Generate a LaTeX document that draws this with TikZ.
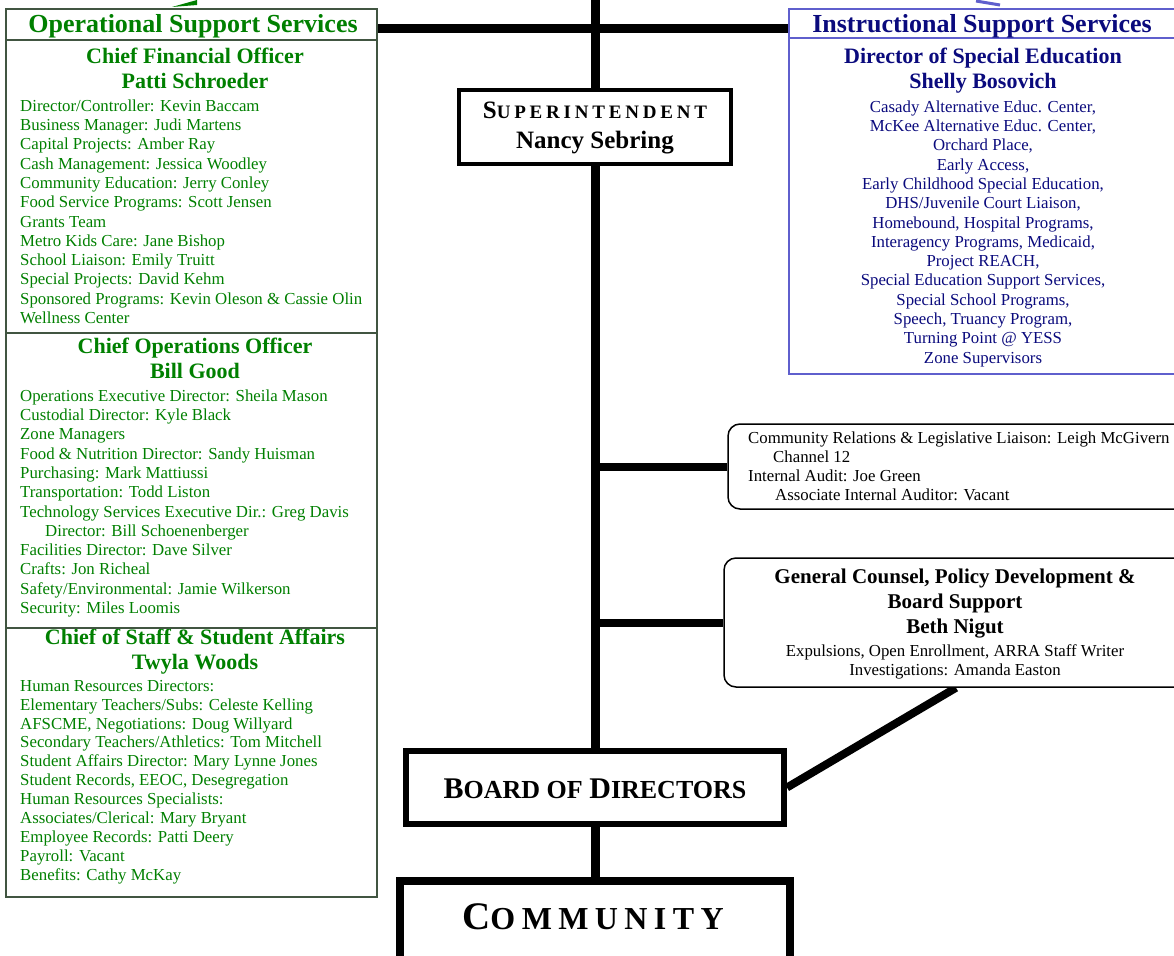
\documentclass[tikz,border=0pt]{standalone}
\usepackage{fontspec}
\setmainfont{Liberation Serif}
\usetikzlibrary{backgrounds}
\definecolor{opgreen}{RGB}{0,128,0}
\definecolor{navytext}{RGB}{10,10,125}
\definecolor{instline}{RGB}{95,95,205}
\definecolor{opline}{RGB}{65,85,65}
\begin{document}
\begin{tikzpicture}[x=1pt,y=-1pt,
  trunk/.style={line width=9pt},
  branch/.style={line width=8pt},
  emptybox/.style={anchor=center, inner sep=0pt, fill=white},
  opbody/.style={font=\fontsize{16.8}{19.3}\selectfont, text=opgreen, align=left, anchor=north west, inner sep=0pt},
  opbodyb/.style={opbody, font=\fontsize{16.8}{18.9}\selectfont},
  ophead/.style={font=\bfseries\fontsize{22}{25}\selectfont, text=opgreen, align=center, anchor=north, inner sep=0pt},
  optitle/.style={font=\bfseries\fontsize{26}{30}\selectfont, anchor=base, inner sep=0pt},
  instbody/.style={font=\fontsize{16.8}{19.3}\selectfont, text=navytext, align=center, anchor=north, inner sep=0pt},
  insthead/.style={font=\bfseries\fontsize{22}{25}\selectfont, text=navytext, align=center, anchor=north, inner sep=0pt},
  blkbody/.style={font=\fontsize{16.8}{19}\selectfont, align=left, anchor=north west, inner sep=0pt},
  blkcenter/.style={font=\fontsize{16.8}{19}\selectfont, align=center, anchor=north, inner sep=0pt},
  blkhead/.style={font=\bfseries\fontsize{21}{25}\selectfont, align=center, anchor=north, inner sep=0pt}
]
\useasboundingbox (0,0) rectangle (1174,955);

% ---------- boxes ----------
\node[emptybox, draw=opline, line width=1.5pt, minimum width=371pt, minimum height=888pt] (opbox) at (191.5,453) {};
\node[emptybox, draw=instline, line width=1.5pt, minimum width=391pt, minimum height=365pt] (instbox) at (984.5,191.5) {};
\node[emptybox, draw, line width=4pt, minimum width=272pt, minimum height=74pt] (supt) at (595,127) {};
\node[emptybox, draw, line width=6pt, minimum width=378pt, minimum height=73pt] (board) at (595,787.5) {};
\node[emptybox, draw, line width=8pt, minimum width=390pt, minimum height=94pt] (comm) at (595,928) {};
\node[emptybox, draw, line width=1.5pt, rounded corners=12pt, minimum width=462pt, minimum height=85pt] (crbox) at (959,466.5) {};
\node[emptybox, draw, line width=1.5pt, rounded corners=12pt, minimum width=464pt, minimum height=129pt] (gcbox) at (956,622.5) {};

% ---------- connectors (behind boxes) ----------
\coordinate (topend) at (595,0);
\coordinate (hbar) at (0,29);
\begin{scope}[on background layer]
  \fill[white] (0,0) rectangle (1174,955);
  \draw[trunk] (topend) -- (supt.north);
  \draw[trunk] (supt.south) -- (board.north);
  \draw[trunk] (board.south) -- (comm.north);
  \draw[trunk] (opbox.east |- hbar) -- (instbox.west |- hbar);
  \draw[branch] (crbox.west -| topend) -- (crbox.west);
  \draw[branch] (gcbox.west -| topend) -- (gcbox.west);
  \draw[branch] (board.east) -- (gcbox.south);
\end{scope}

% arrow pieces at the top edge
\fill[opgreen] (172,7) -- (197,0) -- (197,5) -- cycle;
\draw[instline, line width=3pt] (976,1) -- (1000,5);

% ---------- Operational Support Services ----------
\draw[opline, line width=1.5pt] (6,40) -- (377,40);
\draw[opline, line width=1.5pt] (6,333) -- (377,333);
\node[optitle, text=opgreen] (optitle) at (193,33) {Operational Support Services};
\node[ophead] (cfo) at (195,45.5) {\strut Chief Financial Officer\\Patti Schroeder};
\node[opbody] (cfolist) at (20,97.5) {\strut Director/Controller: Kevin Baccam\\
Business Manager: Judi Martens\\
Capital Projects: Amber Ray\\
Cash Management: Jessica Woodley\\
Community Education: Jerry Conley\\
Food Service Programs: Scott Jensen\\
Grants Team\\
Metro Kids Care: Jane Bishop\\
School Liaison: Emily Truitt\\
Special Projects: David Kehm\\
Sponsored Programs: Kevin Oleson \& Cassie Olin\\
Wellness Center};
\node[ophead] (coo) at (195,335.5) {\strut Chief Operations Officer\\Bill Good};
\node[opbody] (coolist) at (20,387.5) {\strut Operations Executive Director: Sheila Mason\\
Custodial Director: Kyle Black\\
Zone Managers\\
Food \& Nutrition Director: Sandy Huisman\\
Purchasing: Mark Mattiussi\\
Transportation: Todd Liston\\
Technology Services Executive Dir.: Greg Davis\\
\hspace*{25pt}Director: Bill Schoenenberger\\
Facilities Director: Dave Silver\\
Crafts: Jon Richeal\\
Safety/Environmental: Jamie Wilkerson\\
Security: Miles Loomis};
\node[ophead] (cos) at (195,626.5) {\strut Chief of Staff \& Student Affairs\\Twyla Woods};
\draw[opline, line width=1.5pt] (6,628) -- (377,628);
\node[opbodyb] (coslist) at (20,677.8) {\strut Human Resources Directors:\\
Elementary Teachers/Subs: Celeste Kelling\\
AFSCME, Negotiations: Doug Willyard\\
Secondary Teachers/Athletics: Tom Mitchell\\
Student Affairs Director: Mary Lynne Jones\\
Student Records, EEOC, Desegregation\\
Human Resources Specialists:\\
Associates/Clerical: Mary Bryant\\
Employee Records: Patti Deery\\
Payroll: Vacant\\
Benefits: Cathy McKay};

% ---------- Instructional Support Services ----------
\draw[instline, line width=1.5pt] (789,38) -- (1174,38);
\node[optitle, text=navytext] (insttitle) at (982,33) {Instructional Support Services};
\node[insthead] (dse) at (983,45.5) {\strut Director of Special Education\\Shelly Bosovich};
\node[instbody] (dselist) at (983,98.5) {\strut Casady Alternative Educ. Center,\\
McKee Alternative Educ. Center,\\
Orchard Place,\\
Early Access,\\
Early Childhood Special Education,\\
DHS/Juvenile Court Liaison,\\
Homebound, Hospital Programs,\\
Interagency Programs, Medicaid,\\
Project REACH,\\
Special Education Support Services,\\
Special School Programs,\\
Speech, Truancy Program,\\
Turning Point @ YESS\\
Zone Supervisors};

% ---------- Superintendent / Board / Community ----------
\node[font=\bfseries\fontsize{25}{30}\selectfont, align=center, anchor=north, inner sep=0pt] (supttext) at (595,97)
  {\strut{\fontsize{25}{30}\selectfont S}{\fontsize{19}{30}\selectfont\addfontfeatures{LetterSpace=20}UPERINTENDENT}\\Nancy Sebring};
\node[font=\bfseries, anchor=base, inner sep=0pt] (boardtext) at (595,798)
  {{\fontsize{30}{34}\selectfont B}{\fontsize{26}{34}\selectfont OARD OF }{\fontsize{30}{34}\selectfont D}{\fontsize{26}{34}\selectfont IRECTORS}};
\node[font=\bfseries, anchor=base, inner sep=0pt] (commtext) at (593,929)
  {{\fontsize{39}{44}\selectfont\addfontfeatures{LetterSpace=15}C}{\fontsize{32}{44}\selectfont\addfontfeatures{LetterSpace=20}OMMUNITY}};

% ---------- right-hand boxes ----------
\node[blkbody] (crtext) at (748,429.5) {\strut Community Relations \& Legislative Liaison: Leigh McGivern\\
\hspace*{25pt}Channel 12\\
Internal Audit: Joe Green\\
\hspace*{27pt}Associate Internal Auditor: Vacant};
\node[blkhead] (gchead) at (955,565.5) {\strut General Counsel, Policy Development \&\\Board Support\\Beth Nigut};
\node[blkcenter] (gcbody) at (955,642.7) {\strut Expulsions, Open Enrollment, ARRA Staff Writer\\Investigations: Amanda Easton};
\end{tikzpicture}
\end{document}
